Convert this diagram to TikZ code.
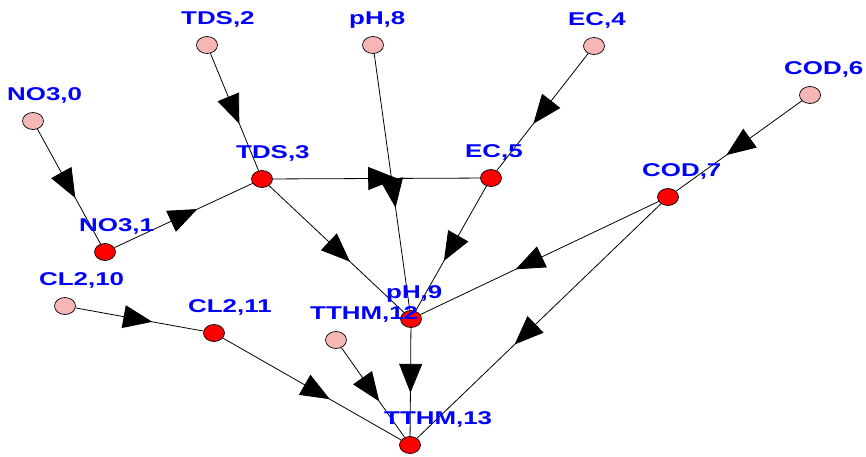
\documentclass[tikz,border=0pt]{standalone}
\usepackage{fontspec}
\setmainfont{Liberation Sans}
\usetikzlibrary{arrows.meta,decorations.markings,shapes.geometric}
\definecolor{srcpink}{RGB}{246,182,182}
\definecolor{labblue}{RGB}{0,0,255}
\begin{document}
\begin{tikzpicture}[x=1pt,y=-1pt,
  vtx/.style={ellipse,draw=black,line width=0.7pt,minimum width=21pt,minimum height=17pt,inner sep=0pt},
  srcv/.style={vtx,fill=srcpink},
  intv/.style={vtx,fill=red},
  lab/.style={text=labblue,font=\bfseries\fontsize{18.5}{18.5}\selectfont,anchor=base west,inner sep=0pt},
  edge/.style={line width=0.8pt,postaction={decorate},
    decoration={markings,mark=at position 0.6 with {\arrow{Triangle[length=29pt,width=23pt]}}}}]
\useasboundingbox (0,0) rectangle (866,456);
\fill[white] (0,0) rectangle (866,456);
% nodes
\node[srcv] (n0) at (33,121) {};
\node[intv] (n1) at (105,252) {};
\node[srcv] (n2) at (207,45) {};
\node[intv] (n3) at (262,179) {};
\node[srcv] (n4) at (594,46) {};
\node[intv] (n5) at (491,178) {};
\node[srcv] (n6) at (810,95) {};
\node[intv] (n7) at (668,197) {};
\node[srcv] (n8) at (373,45) {};
\node[intv] (n9) at (411,319) {};
\node[srcv] (n10) at (65,306) {};
\node[intv] (n11) at (214,333) {};
\node[srcv] (n12) at (336,340) {};
\node[intv] (n13) at (410,445) {};
% edges
\draw[edge] (n0) -- (n1);
\draw[edge] (n2) -- (n3);
\draw[edge] (n1) -- (n3);
\draw[edge] (n3) -- (n5);
\draw[edge] (n8) -- (n9);
\draw[edge] (n4) -- (n5);
\draw[edge] (n5) -- (n9);
\draw[edge] (n3) -- (n9);
\draw[edge] (n6) -- (n7);
\draw[edge] (n7) -- (n9);
\draw[edge] (n7) -- (n13);
\draw[edge] (n9) -- (n13);
\draw[edge] (n12) -- (n13);
\draw[edge] (n10) -- (n11);
\draw[edge] (n11) -- (n13);
% labels
\node[lab] (l0) at (7,100) {\scalebox{1.4}[1]{NO3,0}};
\node[lab] (l1) at (79,231) {\scalebox{1.4}[1]{NO3,1}};
\node[lab] (l2) at (181,24) {\scalebox{1.4}[1]{TDS,2}};
\node[lab] (l3) at (236,158) {\scalebox{1.4}[1]{TDS,3}};
\node[lab] (l4) at (568,25) {\scalebox{1.4}[1]{EC,4}};
\node[lab] (l5) at (465,157) {\scalebox{1.4}[1]{EC,5}};
\node[lab] (l6) at (784,74) {\scalebox{1.4}[1]{COD,6}};
\node[lab] (l7) at (642,176) {\scalebox{1.4}[1]{COD,7}};
\node[lab] (l8) at (349,24) {\scalebox{1.4}[1]{pH,8}};
\node[lab] (l9) at (386,298) {\scalebox{1.4}[1]{pH,9}};
\node[lab] (l10) at (39,285) {\scalebox{1.4}[1]{CL2,10}};
\node[lab] (l11) at (188,312) {\scalebox{1.4}[1]{CL2,11}};
\node[lab] (l12) at (310,319) {\scalebox{1.4}[1]{TTHM,12}};
\node[lab] (l13) at (384,424) {\scalebox{1.4}[1]{TTHM,13}};
\end{tikzpicture}
\end{document}
